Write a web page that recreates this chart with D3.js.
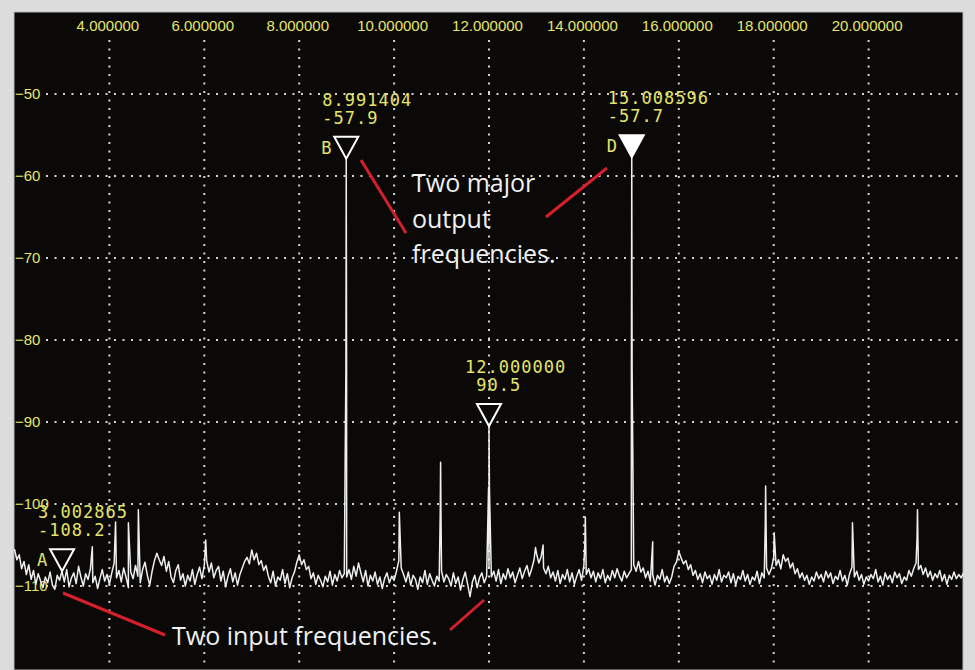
<!DOCTYPE html>
<html lang="en">
<head>
    <meta charset="UTF-8">
    <title>Spectrum with markers</title>
    <script src="https://d3js.org/d3.v7.min.js"></script>
    <style>
        body { margin: 0; background: #dcdcdc; }
        .tick-label { font-family: "Liberation Sans", Arial, sans-serif; font-size: 15px; fill: #e6e66c; }
        .readout { font-family: "DejaVu Sans Mono", monospace; font-size: 17px; letter-spacing: 1px; fill: #e4e46a; white-space: pre; }
        .note { font-family: "Open Sans", sans-serif; font-size: 25px; fill: #f0f0f0; }
    </style>
</head>
<body>
    <svg width="975" height="670"></svg>
    <script>
        // frequency ticks (MHz) and level ticks (dB)
        const xTicks = [4, 6, 8, 10, 12, 14, 16, 18, 20];
        const yTicks = [-50, -60, -70, -80, -90, -100, -110];

        // noise floor, one row per MHz, 0.05 MHz steps starting at 2.00
        const noiseStart = 2.0, noiseStep = 0.05;
        const noise = [
            -105.5, -106.8, -106.2, -107.9, -107.0, -108.6, -107.4, -109.2, -108.1, -109.8, -108.5, -109.4, -110.2, -108.9, -109.6, -108.3, -109.9, -110.4, -108.7, -109.3,
            -108.2, -109.5, -108.0, -110.1, -109.0, -108.4, -109.7, -107.6, -108.9, -110.0, -108.5, -109.2, -107.9, -109.6, -108.8, -110.3, -109.1, -108.0, -109.4, -108.6,
            -109.8, -108.4, -107.2, -109.0, -108.1, -109.5, -107.8, -108.9, -110.2, -108.3, -109.1, -107.5, -108.8, -109.6, -108.0, -107.1, -108.7, -109.9, -108.2, -106.9,
            -106.0, -106.8, -107.5, -106.4, -108.2, -107.0, -108.9, -109.6, -108.1, -107.4, -109.3, -108.5, -110.0, -108.7, -109.4, -108.0, -109.8, -108.6, -107.7, -109.1,
            -107.5, -106.9, -108.3, -107.2, -109.0, -108.1, -107.6, -109.4, -108.2, -110.1, -108.8, -107.9, -109.5, -108.4, -109.9, -108.6, -107.8, -107.0, -106.5, -107.3,
            -105.6, -106.8, -106.0, -107.4, -106.9, -108.1, -107.5, -108.8, -109.6, -108.2, -110.0, -108.9, -109.3, -108.0, -109.7, -108.5, -110.2, -109.0, -108.3, -107.1,
            -106.2, -107.4, -106.8, -108.0, -107.6, -109.1, -108.4, -109.8, -108.7, -109.3, -110.1, -108.8, -109.5, -108.2, -109.9, -108.6, -109.4, -108.1, -109.0, -108.5,
            -108.9, -108.0, -109.2, -107.6, -108.8, -107.2, -108.4, -109.5, -108.1, -110.0, -108.7, -109.4, -108.3, -109.8, -108.9, -110.3, -109.1, -108.4, -109.6, -108.8,
            -109.3, -108.2, -106.9, -107.8, -108.6, -109.5, -108.3, -109.9, -108.7, -109.2, -110.4, -108.9, -109.6, -108.1, -109.8, -108.5, -109.3, -110.0, -108.8, -109.4,
            -108.2, -109.5, -108.6, -109.1, -110.0, -108.4, -109.7, -108.9, -110.5, -109.2, -108.3, -109.8, -111.3, -109.5, -108.7, -110.2, -109.0, -108.4, -109.6, -108.8,
            -107.8, -108.9, -108.2, -109.4, -108.0, -109.7, -108.5, -109.2, -107.9, -109.0, -108.3, -109.6, -108.7, -107.8, -109.1, -108.2, -107.5, -108.8, -107.9, -106.8,
            -106.0, -107.2, -106.4, -107.8, -108.5, -107.6, -109.0, -108.3, -109.4, -108.1, -109.7, -108.6, -109.2, -108.0, -109.5, -108.4, -109.8, -108.8, -108.0, -109.3,
            -107.5, -108.6, -107.9, -109.0, -108.2, -109.5, -108.4, -109.1, -108.0, -109.6, -108.7, -109.3, -108.1, -109.0, -107.9, -108.8, -109.4, -108.2, -109.0, -108.5,
            -108.0, -107.4, -108.2, -107.0, -108.3, -107.8, -109.0, -108.2, -109.4, -108.6, -109.9, -108.7, -109.2, -108.0, -109.5, -108.8, -109.7, -108.9, -107.6, -107.1,
            -105.8, -106.6, -107.3, -106.9, -108.0, -107.4, -108.7, -108.1, -109.2, -108.5, -109.6, -108.3, -109.1, -108.7, -109.8, -108.6, -109.3, -108.0, -109.5, -108.7,
            -109.0, -108.3, -109.6, -108.5, -109.9, -108.8, -109.2, -108.1, -109.4, -108.6, -109.8, -108.9, -109.3, -108.2, -109.7, -108.4, -109.0, -107.8, -108.6, -107.9,
            -106.5, -107.5, -106.8, -107.9, -106.2, -107.0, -106.6, -107.8, -107.2, -108.5, -107.9, -109.0, -108.4, -109.3, -108.7, -109.8, -108.9, -109.4, -108.3, -109.1,
            -108.6, -109.5, -108.2, -109.0, -108.4, -109.7, -108.8, -109.2, -108.1, -109.4, -108.7, -109.9, -108.5, -107.7, -108.9, -108.2, -109.3, -108.6, -109.8, -108.9,
            -109.4, -108.6, -109.1, -108.0, -109.5, -108.8, -109.9, -108.4, -109.2, -108.7, -109.6, -108.3, -109.0, -108.5, -109.7, -108.9, -109.3, -108.1, -108.8, -107.9,
            -107.2, -108.0, -107.5, -108.6, -107.8, -108.9, -108.2, -109.3, -108.5, -109.0, -108.1, -109.4, -108.6, -109.8, -108.7, -109.2, -108.3, -109.1, -108.6, -109.0,
            -108.4
        ];

        // discrete spurs and tones: frequency (MHz), level (dB)
        const spurFreq  = [3.64, 4.13, 4.40, 4.61, 6.03, 8.984, 8.991404, 8.999, 10.11, 10.972, 10.98, 10.988,
                           11.991, 12.0, 12.009, 12.98, 13.14, 14.022, 14.03, 15.001, 15.008596, 15.016,
                           15.45, 17.822, 17.83, 18.01, 19.66, 21.022, 21.03];
        const spurLevel = [-105.2, -102.2, -102.3, -100.7, -104.4, -83.5, -57.9, -83.5, -101.0, -101.3, -94.9, -101.3,
                           -98.0, -90.5, -98.0, -105.3, -105.0, -104.4, -101.6, -83.5, -57.7, -83.5,
                           -104.6, -102.7, -97.8, -103.5, -102.3, -104.0, -100.7];

        // markers
        const markerId      = ["A", "B", "", "D"];
        const markerFreq    = [3.002865, 8.991404, 12.000000, 15.008596];
        const markerLevel   = [-108.2, -57.9, -90.5, -57.7];
        const markerFreqTxt = ["3.002865", "8.991404", "12.000000", "15.008596"];
        const markerLvlTxt  = ["-108.2", "-57.9", " 90.5", "-57.7"];
        const markerFilled  = [false, false, false, true];

        const svg = d3.select("svg");

        const x = d3.scaleLinear().domain([2, 22]).range([14.5, 963.5]);
        const y = d3.scaleLinear().domain([-120, -40]).range([668, 12]);

        // panel
        svg.append("rect")
           .attr("x", 14).attr("y", 12).attr("width", 949).attr("height", 658)
           .attr("fill", "#0b0907")
           .attr("stroke", "#b9b9b9").attr("stroke-width", 1);

        // grid
        svg.append("g").selectAll("line").data(xTicks).join("line")
           .attr("x1", d => x(d)).attr("x2", d => x(d))
           .attr("y1", 40).attr("y2", 668)
           .attr("stroke", "#d4d4d4").attr("stroke-width", 2)
           .attr("stroke-dasharray", "2,6.5");

        svg.append("g").selectAll("line").data(yTicks).join("line")
           .attr("x1", 46).attr("x2", 963)
           .attr("y1", d => y(d)).attr("y2", d => y(d))
           .attr("stroke", "#d4d4d4").attr("stroke-width", 2)
           .attr("stroke-dasharray", "2,6.5");

        // top frequency labels
        const xAxis = svg.append("g")
           .attr("transform", "translate(0,31)")
           .call(d3.axisTop(x).tickValues(xTicks).tickFormat(d3.format(".6f")).tickSize(0).tickPadding(0));
        xAxis.select(".domain").remove();
        xAxis.selectAll("text").attr("class", "tick-label").attr("x", -2).attr("dy", 0);

        // left level labels
        const yAxis = svg.append("g")
           .attr("transform", "translate(15,0)")
           .call(d3.axisRight(y).tickValues(yTicks).tickFormat(d3.format("d")).tickSize(0).tickPadding(0));
        yAxis.select(".domain").remove();
        yAxis.selectAll("text").attr("class", "tick-label").attr("dy", "0.35em").attr("y", -1);

        // trace
        const pts = noise.map((v, i) => [noiseStart + i * noiseStep, v])
            .concat(spurFreq.map((f, i) => [f, spurLevel[i]]))
            .sort((a, b) => a[0] - b[0]);

        svg.append("path")
           .datum(pts)
           .attr("fill", "none")
           .attr("stroke", "#eeeeee")
           .attr("stroke-width", 1.5)
           .attr("stroke-linejoin", "round")
           .attr("d", d3.line().x(d => x(d[0])).y(d => y(d[1])));

        // markers
        const mk = svg.append("g").selectAll("g").data(markerFreq).join("g")
           .attr("transform", (d, i) => `translate(${x(d)},${y(markerLevel[i])})`);

        mk.append("path")
           .attr("d", "M-12,-22L12,-22L0,0Z")
           .attr("fill", (d, i) => markerFilled[i] ? "#ffffff" : "#0b0907")
           .attr("stroke", "#ffffff").attr("stroke-width", 2)
           .attr("stroke-linejoin", "miter");

        mk.append("text").attr("class", "readout")
           .attr("x", -24).attr("y", -53).text((d, i) => markerFreqTxt[i]);
        mk.append("text").attr("class", "readout")
           .attr("x", -24).attr("y", -35).text((d, i) => markerLvlTxt[i]);
        mk.append("text").attr("class", "readout")
           .attr("x", -25).attr("y", -5).text((d, i) => markerId[i]);

        // annotations
        const red = "#d4202c";
        const redLines = [[361, 160, 406, 233], [607, 168, 546, 217], [63, 593, 165, 635], [450, 630, 484, 600]];
        svg.append("g").selectAll("line").data(redLines).join("line")
           .attr("x1", d => d[0]).attr("y1", d => d[1])
           .attr("x2", d => d[2]).attr("y2", d => d[3])
           .attr("stroke", red).attr("stroke-width", 3);

        const notes = [["Two major", 412, 192], ["output", 412, 228], ["frequencies.", 412, 263],
                       ["Two input frequencies.", 172, 645]];
        svg.append("g").selectAll("text").data(notes).join("text")
           .attr("class", "note")
           .attr("x", d => d[1]).attr("y", d => d[2])
           .text(d => d[0]);
    </script>
</body>
</html>
